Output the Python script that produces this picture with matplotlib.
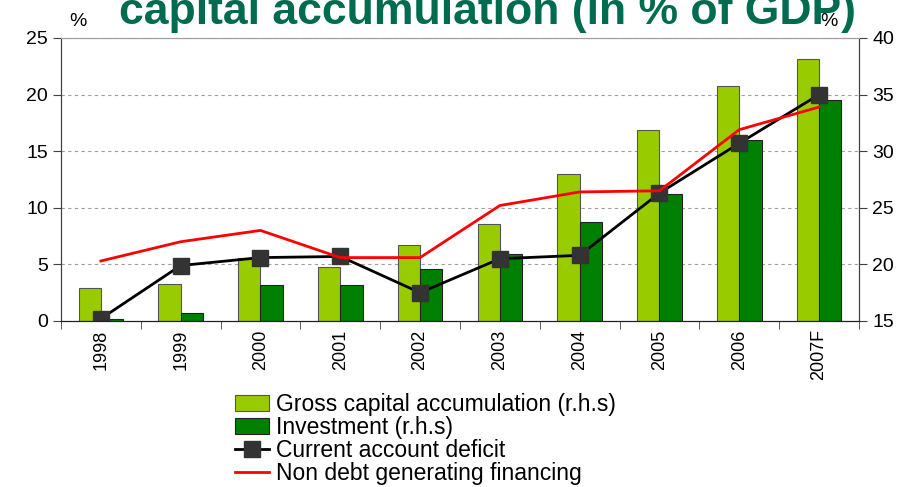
import numpy as np
import matplotlib.pyplot as plt

years = ["1998", "1999", "2000", "2001", "2002", "2003", "2004", "2005", "2006", "2007F"]
gross_capital = [17.9, 18.3, 20.6, 19.8, 21.7, 23.6, 28.0, 31.9, 35.8, 38.1]   # r.h.s
investment = [15.15, 15.7, 18.2, 18.2, 19.6, 20.9, 23.7, 26.2, 31.0, 34.5]     # r.h.s
ca_deficit = [0.2, 4.9, 5.6, 5.7, 2.5, 5.5, 5.8, 11.3, 15.7, 20.0]            # l.h.s
non_debt = [5.3, 7.0, 8.0, 5.6, 5.6, 10.2, 11.4, 11.5, 16.9, 18.9]            # l.h.s

plt.rcParams['font.family'] = ['Liberation Sans', 'DejaVu Sans']

fig = plt.figure(figsize=(9.18, 4.87), dpi=100)
ax = fig.add_axes([0.0664, 0.3409, 0.8693, 0.5811])
ax2 = ax.twinx()
ax.set_zorder(ax2.get_zorder() + 1)
ax.patch.set_visible(False)

x = np.arange(len(years))
w = 0.28
b1 = ax2.bar(x - w / 2, np.array(gross_capital) - 15, w, bottom=15, color="#99CC00",
             edgecolor="#555555", linewidth=0.8, label="Gross capital accumulation (r.h.s)")
b2 = ax2.bar(x + w / 2, np.array(investment) - 15, w, bottom=15, color="#008000",
             edgecolor="#222222", linewidth=0.8, label="Investment (r.h.s)")

l1, = ax.plot(x, ca_deficit, color="black", lw=2, marker="s", markersize=11,
              markerfacecolor="#333333", markeredgecolor="#333333",
              label="Current account deficit")
l2, = ax.plot(x, non_debt, color="#FF0000", lw=2, label="Non debt generating financing")

ax.set_xlim(-0.5, len(years) - 0.5)
ax.set_ylim(0, 25)
ax2.set_ylim(15, 40)
ax.set_yticks([0, 5, 10, 15, 20, 25])
ax2.set_yticks([15, 20, 25, 30, 35, 40])

ax2.set_axisbelow(True)
ax2.yaxis.grid(True, linestyle=(0, (3, 3)), color="#a0a0a0", lw=0.8)

ax.set_xticks(x)
ax.set_xticklabels(years, rotation=90, fontsize=13)
ax.set_xticks(np.arange(-0.5, len(years)), minor=True)
ax.tick_params(axis="x", which="major", length=0, pad=6)
ax.tick_params(axis="x", which="minor", length=6, color="#404040")
ax2.tick_params(axis="x", which="both", length=0)
ax.tick_params(axis="y", labelsize=14, length=6, color="#404040")
ax2.tick_params(axis="y", labelsize=14, length=6, color="#404040")

for a in (ax, ax2):
    a.spines["top"].set_color("#a0a0a0")
    a.spines["left"].set_color("#404040")
    a.spines["right"].set_color("#404040")
    a.spines["bottom"].set_color("#202020")

fig.text(0.075, 0.955, "%", fontsize=14, ha="left", va="center")
fig.text(0.893, 0.955, "%", fontsize=14, ha="left", va="center")
fig.text(0.531, 1 - 24 / 487, "capital accumulation (in % of GDP)", fontsize=32,
         fontweight="bold", color="#006B4F", ha="center", va="baseline")

fig.legend(handles=[b1, b2, l1, l2], loc="upper left", bbox_to_anchor=(0.256, 0.193),
           frameon=False, fontsize=16.5, handlelength=1.5, handletextpad=0.3,
           labelspacing=0.0, borderaxespad=0, borderpad=0)

fig.savefig("out.png", dpi=100)
